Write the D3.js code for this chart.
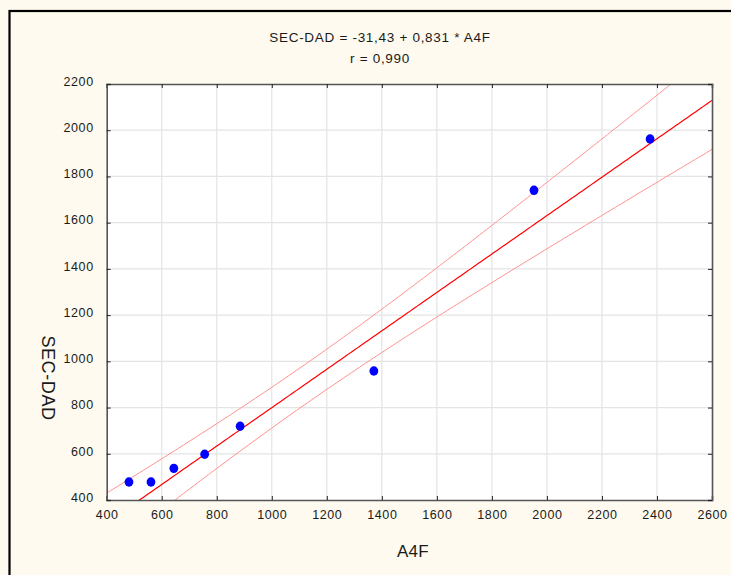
<!DOCTYPE html>
<html>
<head>
<meta charset="utf-8">
<script src="https://cdn.jsdelivr.net/npm/d3@7"></script>
<style>
  body { margin: 0; background: #fefaef; }
  svg { display: block; }
  text { font-family: "Liberation Sans", Arial, sans-serif; fill: #1a1a1a; }
</style>
</head>
<body>
<div id="chart"></div>
<script>
// values
var a4f = [481, 561, 644, 756, 885, 1371, 1953, 2375]
var secDad = [478, 478, 537, 598, 719, 958, 1740, 1962]
var xTicks = [400, 600, 800, 1000, 1200, 1400, 1600, 1800, 2000, 2200, 2400, 2600]
var yTicks = [400, 600, 800, 1000, 1200, 1400, 1600, 1800, 2000, 2200]
var intercept = -31.43
var slope = 0.831
var titleLines = ["SEC-DAD = -31,43 + 0,831 * A4F", "r = 0,990"]
var tValue = 2.447 // 95%, n - 2 = 6 df

var width = 731, height = 575
var margin = { left: 106.7, right: 19, top: 84, bottom: 75 }

var svg = d3.select("#chart").append("svg")
    .attr("width", width)
    .attr("height", height)

// outer frame (chart continues beyond the right/bottom edge)
svg.append("rect")
    .attr("x", 9.5).attr("y", 11)
    .attr("width", 800).attr("height", 700)
    .attr("fill", "#fefaef")
    .attr("stroke", "#000")
    .attr("stroke-width", 2.2)

var x = d3.scaleLinear().domain([400, 2600]).range([margin.left, width - margin.right])
var y = d3.scaleLinear().domain([400, 2200]).range([height - margin.bottom, margin.top])

svg.append("defs").append("clipPath").attr("id", "plot-clip")
  .append("rect")
    .attr("x", x(400)).attr("y", y(2200))
    .attr("width", x(2600) - x(400)).attr("height", y(400) - y(2200))

svg.append("rect")
    .attr("x", x(400)).attr("y", y(2200))
    .attr("width", x(2600) - x(400)).attr("height", y(400) - y(2200))
    .attr("fill", "#fff")

// grid
svg.append("g").selectAll("line").data(xTicks.slice(1, -1)).join("line")
    .attr("x1", d => x(d)).attr("x2", d => x(d))
    .attr("y1", y(2200)).attr("y2", y(400))
    .attr("stroke", "#e4e4e4").attr("stroke-width", 1.2)
svg.append("g").selectAll("line").data(yTicks.slice(1, -1)).join("line")
    .attr("y1", d => y(d)).attr("y2", d => y(d))
    .attr("x1", x(400)).attr("x2", x(2600))
    .attr("stroke", "#e4e4e4").attr("stroke-width", 1.2)

// regression line and 95% confidence band
var n = a4f.length
var xMean = d3.mean(a4f)
var sxx = d3.sum(a4f, d => (d - xMean) * (d - xMean))
var sse = d3.sum(a4f, (d, i) => Math.pow(secDad[i] - (intercept + slope * d), 2))
var s = Math.sqrt(sse / (n - 2))
var xs = d3.range(400, 2601, 10)
var fit = d => intercept + slope * d
var half = d => tValue * s * Math.sqrt(1 / n + (d - xMean) * (d - xMean) / sxx)

var plot = svg.append("g").attr("clip-path", "url(#plot-clip)")
var lineGen = f => d3.line().x(d => x(d)).y(d => y(f(d)))(xs)

plot.append("path").attr("d", lineGen(d => fit(d) + half(d)))
    .attr("fill", "none").attr("stroke", "#ff9090").attr("stroke-width", 1)
plot.append("path").attr("d", lineGen(d => fit(d) - half(d)))
    .attr("fill", "none").attr("stroke", "#ff9090").attr("stroke-width", 1)
plot.append("path").attr("d", lineGen(fit))
    .attr("fill", "none").attr("stroke", "#ff0000").attr("stroke-width", 1.2)

// points
svg.append("g").selectAll("ellipse").data(a4f).join("ellipse")
    .attr("cx", d => x(d))
    .attr("cy", (d, i) => y(secDad[i]))
    .attr("rx", 4.4).attr("ry", 4.7)
    .attr("fill", "#0000ff")

// axes with inward ticks
var axisColor = "#555"
var fmt = d3.format("d")
var axisBottomG = svg.append("g").attr("transform", "translate(0," + y(400) + ")")
    .call(d3.axisBottom(x).tickValues(xTicks).tickSize(-4).tickPadding(10).tickFormat(fmt))
var axisTopG = svg.append("g").attr("transform", "translate(0," + y(2200) + ")")
    .call(d3.axisTop(x).tickValues(xTicks).tickSize(-4).tickFormat(""))
var axisLeftG = svg.append("g").attr("transform", "translate(" + x(400) + ",0)")
    .call(d3.axisLeft(y).tickValues(yTicks).tickSize(-4).tickPadding(13).tickFormat(fmt))
var axisRightG = svg.append("g").attr("transform", "translate(" + x(2600) + ",0)")
    .call(d3.axisRight(y).tickValues(yTicks).tickSize(-4).tickFormat(""))

;[axisBottomG, axisTopG, axisLeftG, axisRightG].forEach(g => {
    g.select(".domain").attr("stroke", axisColor).attr("stroke-width", 1.6)
    g.selectAll(".tick line").attr("stroke", "#222").attr("stroke-width", 1)
    g.selectAll(".tick text")
        .attr("font-family", "'Liberation Sans', Arial, sans-serif")
        .attr("font-size", 12.5)
        .attr("letter-spacing", 0.6)
        .attr("fill", "#1a1a1a")
})
axisLeftG.selectAll(".tick text").attr("dy", "0.1em")

// titles
svg.selectAll(".title").data(titleLines).join("text")
    .attr("class", "title")
    .attr("x", 380).attr("y", (d, i) => 42 + i * 21)
    .attr("text-anchor", "middle")
    .attr("font-size", 13.5)
    .attr("letter-spacing", 0.7)
    .text(d => d)

svg.append("text")
    .attr("x", 413).attr("y", 557)
    .attr("text-anchor", "middle")
    .attr("font-size", 17)
    .attr("letter-spacing", 0.3)
    .text("A4F")

svg.append("text")
    .attr("transform", "translate(42,378) rotate(90)")
    .attr("text-anchor", "middle")
    .attr("font-size", 18)
    .attr("letter-spacing", 0.6)
    .text("SEC-DAD")
</script>
</body>
</html>
